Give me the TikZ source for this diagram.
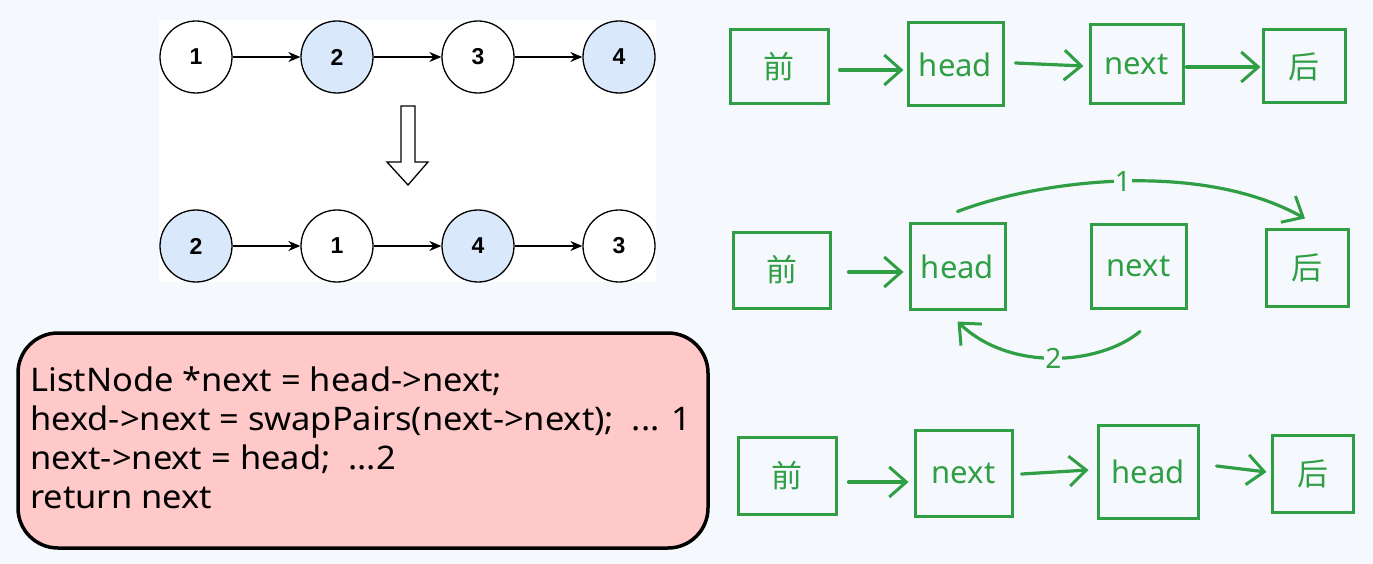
\documentclass[tikz,border=0pt]{standalone}
\usepackage{fontspec}
\setmainfont{Liberation Sans}
\newfontfamily\cjk{Noto Sans CJK SC}
\newfontfamily\hand{Noto Sans}
\newfontfamily\codef[FakeStretch=1.06]{Noto Sans}
\usetikzlibrary{arrows.meta}
\definecolor{bgc}{HTML}{F5F9FD}
\definecolor{gr}{HTML}{2F9E44}
\definecolor{lbl}{HTML}{DAE8FC}
\definecolor{pk}{HTML}{FFC9C9}
\begin{document}
\begin{tikzpicture}[x=1pt,y=-1pt,
  circ/.style={circle,draw=black,line width=1.3pt,minimum size=72pt,inner sep=0pt,font=\fontsize{23}{25}\selectfont\bfseries},
  fb/.style={fill=lbl}, fw/.style={fill=white},
  lnk/.style={-{Stealth[length=12pt,width=10pt]},line width=1.3pt},
  gbox/.style={draw=gr,line width=3pt,inner sep=0pt,text=gr,font=\hand\fontsize{31}{33}\selectfont},
  gcjk/.style={gbox,font=\cjk\fontsize{31}{33}\selectfont},
  garr/.style={draw=gr,line width=3.2pt,line cap=round,-{Straight Barb[length=17pt,width=30pt,line width=3pt]}},
  glab/.style={text=gr,fill=bgc,inner sep=1pt,font=\hand\fontsize{28}{30}\selectfont},
  code/.style={anchor=base west,inner sep=0pt,font=\codef\fontsize{32.5}{34}\selectfont}]
\fill[bgc] (0,0) rectangle (1373,564);
\useasboundingbox (0,0) rectangle (1373,564);
% left panel
\fill[white] (159,20) rectangle (656,282);
\node[circ,fw] (t1) at (196,57) {1};
\node[circ,fb] (t2) at (337,57) {2};
\node[circ,fw] (t3) at (478,57) {3};
\node[circ,fb] (t4) at (619,57) {4};
\node[circ,fb] (b1) at (196,246) {2};
\node[circ,fw] (b2) at (337,246) {1};
\node[circ,fb] (b3) at (478,246) {4};
\node[circ,fw] (b4) at (619,246) {3};
\draw[lnk] (t1) -- (t2); \draw[lnk] (t2) -- (t3); \draw[lnk] (t3) -- (t4);
\draw[lnk] (b1) -- (b2); \draw[lnk] (b2) -- (b3); \draw[lnk] (b3) -- (b4);
\draw[fill=white,line width=1.3pt,line join=miter] (401,106) -- (415,106) -- (415,162) -- (428,162) -- (408,185) -- (387,162) -- (401,162) -- cycle;
% code box
\node[draw=black,fill=pk,rounded corners=40pt,line width=3.5pt,minimum width=690pt,minimum height=215pt] (cb) at (363,440.5) {};
\node[code] (c1) at (30,391) {ListNode *next = head->next;};
\node[code] (c2) at (30,430) {hexd->next = swapPairs(next->next);\ \ ... 1};
\node[code] (c3) at (30,469) {next->next = head;\ \ ...2};
\node[code] (c4) at (30,508) {return next};
% row 1
\node[gcjk,minimum width=98pt,minimum height=74pt] (p1) at (779,67) {前};
\node[gbox,minimum width=95pt,minimum height=83pt] (h1) at (955.5,64.5) {head};
\node[gbox,minimum width=93pt,minimum height=79pt] (n1) at (1136.5,64.5) {next};
\node[gcjk,minimum width=82pt,minimum height=73pt] (a1) at (1304,66.5) {后};
\draw[garr] ([shift={(10,3)}]p1.east) -- ([shift={(-3,5.5)}]h1.west);
\draw[garr] ([shift={(11,-1.5)}]h1.east) -- ([shift={(-5,1.5)}]n1.west);
\draw[garr] ([shift={(2,2.5)}]n1.east) -- ([shift={(-1,0.5)}]a1.west);
% row 2
\node[gcjk,minimum width=97pt,minimum height=76pt] (p2) at (781.5,270) {前};
\node[gbox,minimum width=95pt,minimum height=85pt] (h2) at (957.5,266.5) {head};
\node[gbox,minimum width=95pt,minimum height=83pt] (n2) at (1138.5,266.5) {next};
\node[gcjk,minimum width=82pt,minimum height=77pt] (a2) at (1307,267.5) {后};
\draw[garr] ([shift={(17,2)}]p2.east) -- ([shift={(-5,5.5)}]h2.west);
\draw[garr] ([shift={(0,-11)}]h2.north) .. controls (1040,180) and (1200,160) .. ([shift={(-2,-9)}]a2.north) node[glab,pos=0.5] {1};
\draw[garr] ([shift={(1.5,22)}]n2.south) .. controls (1100,365) and (1010,372) .. ([shift={(0,11)}]h2.south) node[glab,pos=0.5] {2};
% row 3
\node[gcjk,minimum width=98pt,minimum height=77pt] (p3) at (787,475.5) {前};
\node[gbox,minimum width=97pt,minimum height=86pt] (n3) at (963.5,473) {next};
\node[gbox,minimum width=100pt,minimum height=93pt] (h3) at (1148,471.5) {head};
\node[gcjk,minimum width=81pt,minimum height=77pt] (a3) at (1312.5,473.5) {后};
\draw[garr] ([shift={(11,6.5)}]p3.east) -- ([shift={(-5,9)}]n3.west);
\draw[garr] ([shift={(8,1)}]n3.east) -- ([shift={(-8,-1.5)}]h3.west);
\draw[garr] ([shift={(17,-5.5)}]h3.east) -- ([shift={(-4,-1.5)}]a3.west);
\end{tikzpicture}
\end{document}
